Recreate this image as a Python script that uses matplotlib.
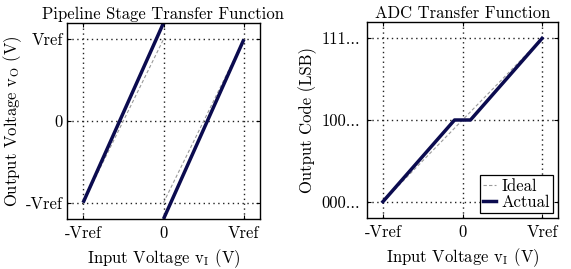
import matplotlib
matplotlib.use("Agg")
import matplotlib.pyplot as plt

plt.rcParams["font.family"] = ["cmr10", "DejaVu Serif"]
plt.rcParams["mathtext.fontset"] = "cm"
plt.rcParams["axes.unicode_minus"] = False

NAVY = "#0b0b4f"
GREY = "#9a9a9a"

# pipeline stage (input, output) in units of Vref
stage_ideal_x = [[-1.0, 0.0], [0.0, 1.0]]
stage_ideal_y = [[-1.0, 1.0], [-1.0, 1.0]]
stage_actual_x = [[-1.0, 0.0], [0.0, 1.0]]
stage_actual_y = [[-1.0, 1.2], [-1.2, 1.0]]

# ADC transfer (input in Vref, code position)
adc_ideal_x = [-1.0, 1.0]
adc_ideal_y = [-1.0, 1.0]
adc_actual_x = [-1.0, -0.1, 0.1, 1.0]
adc_actual_y = [-1.0, 0.0, 0.0, 1.0]

vtick_pos = [-1, 0, 1]
vtick_lbl = ["-Vref", "0", "Vref"]
code_lbl = ["000...", "100...", "111..."]

FS = 12

fig = plt.figure(figsize=(5.71, 2.69), dpi=100)
ax1 = fig.add_axes([67 / 571, 1 - 219 / 269, 193 / 571, 196 / 269])
ax2 = fig.add_axes([367 / 571, 1 - 218 / 269, 191 / 571, 196 / 269])


def style(ax):
    ax.set_xlim(-1.2, 1.2)
    ax.set_ylim(-1.2, 1.2)
    ax.set_xticks(vtick_pos)
    ax.set_xticklabels(vtick_lbl)
    ax.set_yticks(vtick_pos)
    ax.grid(True, color="#222222", linestyle=(0, (1, 2.5)), linewidth=1.0)
    ax.tick_params(direction="in", top=True, right=True, length=3,
                   labelsize=FS, pad=5)
    for s in ax.spines.values():
        s.set_linewidth(1.0)


for xs, ys in zip(stage_ideal_x, stage_ideal_y):
    ax1.plot(xs, ys, color=GREY, linestyle="--", linewidth=0.8, dashes=(3, 2))
for xs, ys in zip(stage_actual_x, stage_actual_y):
    ax1.plot(xs, ys, color=NAVY, linewidth=2.5, solid_capstyle="butt")
style(ax1)
ax1.set_yticklabels(vtick_lbl)
ax1.tick_params(axis="y", pad=3)
ax1.set_title("Pipeline Stage Transfer Function", fontsize=FS, pad=3)
ax1.set_xlabel(r"Input Voltage v$_\mathrm{I}$ (V)", fontsize=FS, labelpad=4)
ax1.set_ylabel(r"Output Voltage v$_\mathrm{O}$ (V)", fontsize=FS, labelpad=1)

ax2.plot(adc_ideal_x, adc_ideal_y, color=GREY, linestyle="--", linewidth=0.8,
         dashes=(3, 2), label="Ideal")
ax2.plot(adc_actual_x, adc_actual_y, color=NAVY, linewidth=2.5, label="Actual")
style(ax2)
ax2.set_yticklabels(code_lbl)
ax2.set_title("ADC Transfer Function", fontsize=FS, pad=3)
ax2.set_xlabel(r"Input Voltage v$_\mathrm{I}$ (V)", fontsize=FS, labelpad=4)
ax2.set_ylabel("Output Code (LSB)", fontsize=FS, labelpad=3)
leg = ax2.legend(loc="lower right", fontsize=FS, handlelength=0.8,
                 handletextpad=0.3, borderpad=0.2, labelspacing=0.05,
                 fancybox=False, framealpha=1, borderaxespad=0.3)
leg.get_frame().set_edgecolor("black")
leg.get_frame().set_linewidth(0.9)

fig.savefig("out.png", dpi=100)
